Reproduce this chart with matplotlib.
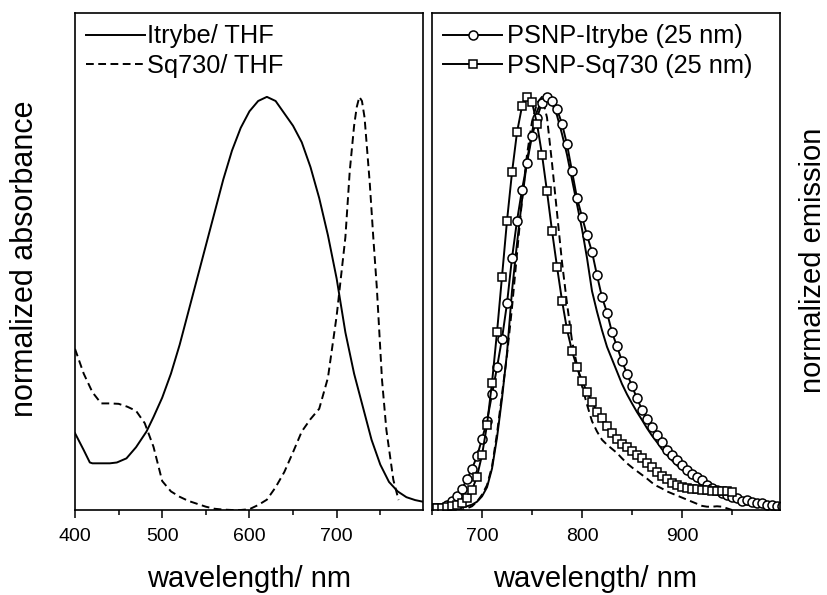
import numpy as np
import matplotlib
matplotlib.use("Agg")
import matplotlib.pyplot as plt
from matplotlib.ticker import FixedLocator

plt.rcParams['font.family'] = ['Liberation Sans', 'DejaVu Sans']

# absorbance in THF (left panel)
wl_itrybe_abs = [400, 410, 417, 420, 430, 440, 448, 459, 470, 482, 490, 500, 510, 520, 530,
                 540, 550, 560, 570, 580, 590, 600, 610, 620, 630, 640, 650, 660, 670, 680,
                 690, 700, 710, 720, 730, 740, 750, 760, 770, 780, 790, 799]
itrybe_abs = [0.186, 0.145, 0.115, 0.113, 0.113, 0.113, 0.115, 0.125, 0.152, 0.19, 0.225, 0.272,
              0.33, 0.40, 0.48, 0.56, 0.64, 0.72, 0.80, 0.87, 0.925, 0.965, 0.99, 1.0, 0.99,
              0.96, 0.93, 0.89, 0.83, 0.755, 0.665, 0.56, 0.43, 0.33, 0.25, 0.17, 0.11, 0.068,
              0.045, 0.031, 0.024, 0.02]

wl_sq730_abs = [400, 410, 420, 430, 440, 450, 460, 470, 480, 490, 500, 510, 520, 530, 540, 550,
                560, 570, 580, 590, 600, 610, 620, 630, 640, 650, 660, 670, 680, 690, 700, 705,
                710, 715, 720, 723, 726, 729, 732, 738, 742, 746, 752, 757, 765, 771]
sq730_abs = [0.39, 0.33, 0.285, 0.258, 0.258, 0.257, 0.25, 0.24, 0.21, 0.153, 0.07, 0.045,
             0.032, 0.022, 0.015, 0.008, 0.003, 0.001, 0.0, 0.0, 0.002, 0.012, 0.025, 0.055,
             0.092, 0.14, 0.19, 0.22, 0.245, 0.32, 0.47, 0.565, 0.66, 0.82, 0.93, 0.975, 1.0,
             0.99, 0.95, 0.79, 0.66, 0.54, 0.315, 0.194, 0.073, 0.024]

# emission (right panel), 5 nm steps
wl_em = np.arange(650, 1001, 5)
wl_em_short = np.arange(650, 951, 5)

psnp_itrybe = [0.003, 0.004, 0.006, 0.011, 0.021, 0.035, 0.052, 0.074, 0.100, 0.130, 0.172,
               0.215, 0.280, 0.345, 0.415, 0.500, 0.610, 0.700, 0.775, 0.840, 0.905, 0.950,
               0.985, 1.000, 0.990, 0.970, 0.935, 0.885, 0.820, 0.755, 0.710, 0.665, 0.625,
               0.568, 0.515, 0.478, 0.430, 0.396, 0.360, 0.330, 0.300, 0.270, 0.243, 0.220,
               0.200, 0.181, 0.164, 0.145, 0.132, 0.120, 0.108, 0.097, 0.088, 0.079, 0.072,
               0.061, 0.053, 0.048, 0.041, 0.037, 0.032, 0.028, 0.022, 0.024, 0.020, 0.016,
               0.017, 0.013, 0.012, 0.010, 0.009]

psnp_sq730 = [0.004, 0.005, 0.006, 0.007, 0.009, 0.012, 0.017, 0.028, 0.048, 0.081, 0.133,
              0.206, 0.308, 0.430, 0.565, 0.700, 0.817, 0.914, 0.977, 1.000, 0.987, 0.935,
              0.860, 0.771, 0.676, 0.589, 0.507, 0.437, 0.385, 0.345, 0.313, 0.286, 0.262,
              0.238, 0.222, 0.203, 0.187, 0.171, 0.160, 0.152, 0.143, 0.133, 0.125, 0.113,
              0.105, 0.092, 0.082, 0.074, 0.066, 0.060, 0.056, 0.053, 0.052, 0.050, 0.049,
              0.048, 0.047, 0.046, 0.045, 0.045, 0.044]

itrybe_thf_em = [0.0, 0.0, 0.001, 0.002, 0.003, 0.004, 0.006, 0.009, 0.013, 0.02, 0.033,
                 0.055, 0.10, 0.175, 0.27, 0.38, 0.53, 0.645, 0.75, 0.845, 0.915, 0.965,
                 0.993, 1.0, 0.985, 0.955, 0.91, 0.86, 0.80, 0.74, 0.68, 0.61, 0.53, 0.48,
                 0.435, 0.395, 0.365, 0.335, 0.305, 0.28, 0.258, 0.237, 0.218, 0.198, 0.18,
                 0.164, 0.147, 0.133, 0.12, 0.108, 0.098, 0.088, 0.079, 0.07, 0.061, 0.053,
                 0.046, 0.04, 0.034, 0.029, 0.025, 0.02, 0.016, 0.013, 0.011, 0.009, 0.007,
                 0.006, 0.005, 0.004, 0.004]

sq730_thf_em = [0.0, 0.0, 0.0, 0.0, 0.0, 0.0, 0.001, 0.004, 0.009, 0.02, 0.037, 0.06, 0.105,
                0.185, 0.28, 0.375, 0.49, 0.62, 0.75, 0.86, 0.94, 0.985, 1.0, 0.95, 0.84,
                0.72, 0.60, 0.50, 0.41, 0.35, 0.30, 0.255, 0.215, 0.19, 0.17, 0.158, 0.148,
                0.138, 0.125, 0.113, 0.103, 0.094, 0.085, 0.076, 0.066, 0.058, 0.052, 0.045,
                0.04, 0.035, 0.03, 0.025, 0.02, 0.015, 0.01, 0.008, 0.008, 0.009, 0.008,
                0.004, 0.0]

lw = 1.4
dash = (0, (4, 2.3))

fig = plt.figure(figsize=(8.28, 5.95), dpi=100)
ax1 = fig.add_axes([75 / 828, 85 / 595, 348 / 828, 497 / 595])
ax2 = fig.add_axes([432 / 828, 85 / 595, 348 / 828, 497 / 595])

ax1.plot(wl_itrybe_abs, itrybe_abs, color='black', lw=lw, label='Itrybe/ THF')
ax1.plot(wl_sq730_abs, sq730_abs, color='black', lw=lw, linestyle=dash, label='Sq730/ THF')

ax2.plot(wl_em, itrybe_thf_em, color='black', lw=lw)
ax2.plot(wl_em_short, sq730_thf_em, color='black', lw=lw, linestyle=dash)
ax2.plot(wl_em, psnp_itrybe, color='black', lw=lw, marker='o', ms=6.5, mfc='white',
         mec='black', mew=1.1, label='PSNP-Itrybe (25 nm)')
ax2.plot(wl_em_short, psnp_sq730, color='black', lw=lw, marker='s', ms=6, mfc='white',
         mec='black', mew=1.1, label='PSNP-Sq730 (25 nm)')

ax1.set_xlim(400, 799)
ax2.set_xlim(650, 998)
ax1.xaxis.set_major_locator(FixedLocator([400, 500, 600, 700]))
ax1.xaxis.set_minor_locator(FixedLocator([450, 550, 650, 750]))
ax2.xaxis.set_major_locator(FixedLocator([700, 800, 900]))
ax2.xaxis.set_minor_locator(FixedLocator([650, 750, 850, 950]))

for ax in (ax1, ax2):
    ax.set_ylim(0, 1.203)
    ax.set_yticks([])
    ax.tick_params(axis='x', which='major', direction='out', length=6, width=1.1,
                   labelsize=14, pad=7)
    ax.tick_params(axis='x', which='minor', direction='out', length=3.5, width=1.1)
    for s in ax.spines.values():
        s.set_linewidth(1.2)

ax1.legend(loc='upper left', frameon=False, fontsize=18.3, handlelength=2.3,
           handletextpad=0.1, labelspacing=0.2, borderaxespad=0.25, borderpad=0.2)
ax2.legend(loc='upper left', frameon=False, fontsize=18.3, handlelength=2.3,
           handletextpad=0.2, labelspacing=0.2, borderaxespad=0.25, borderpad=0.2,
           numpoints=1)

fig.text(249 / 828, (595 - 587) / 595, 'wavelength/ nm', ha='center', va='baseline', fontsize=21)
fig.text(595 / 828, (595 - 587) / 595, 'wavelength/ nm', ha='center', va='baseline', fontsize=21)
fig.text(25 / 828, (595 - 259) / 595, 'normalized absorbance', rotation=90,
         ha='center', va='center', fontsize=22)
fig.text(827 / 828, (595 - 260) / 595, 'normalized emission', rotation=90,
         ha='right', va='center', fontsize=21)

fig.savefig('out.png', dpi=100)
